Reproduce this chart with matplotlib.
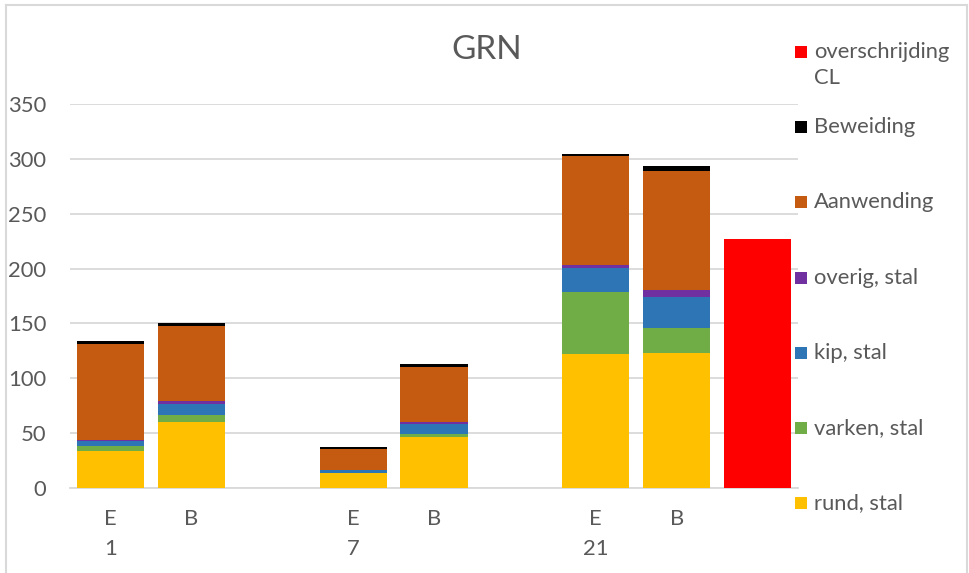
import numpy as np
import matplotlib
matplotlib.use("Agg")
import matplotlib.pyplot as plt
from matplotlib.patches import Rectangle
from matplotlib.lines import Line2D

plt.rcParams["font.family"] = ["Lato", "DejaVu Sans"]

# slots: E, B, (CL) for each group
categories = ["E", "B", "", "E", "B", "", "E", "B", ""]
groups = ["1", "7", "21"]

rund = [33.3, 60.0, 0, 13.6, 46.4, 0, 122.1, 123.3, 0]
varken = [4.9, 6.1, 0, 0.5, 3.0, 0, 57.0, 22.2, 0]
kip = [4.2, 10.3, 0, 2.0, 8.5, 0, 21.8, 29.0, 0]
overig = [1.8, 2.7, 0, 0.3, 2.4, 0, 2.7, 5.8, 0]
aanwending = [87.0, 68.5, 0, 19.0, 50.0, 0, 98.8, 108.5, 0]
beweiding = [2.4, 2.4, 0, 1.8, 2.4, 0, 2.4, 4.5, 0]
overschrijding = [0, 0, 0, 0, 0, 0, 0, 0, 226.7]

series_names = ["rund, stal", "varken, stal", "kip, stal", "overig, stal",
                "Aanwending", "Beweiding", "overschrijding\nCL"]
series_colors = ["#FFC000", "#70AD47", "#2E75B6", "#7030A0",
                 "#C55A11", "#000000", "#FF0000"]
series_values = [rund, varken, kip, overig, aanwending, beweiding, overschrijding]

text_color = "#595959"
grid_color = "#d9d9d9"
fs = 15.8
W, H = 970, 573

fig = plt.figure(figsize=(9.7, 5.73), dpi=100)
ax = fig.add_axes([70 / W, 1 - 488 / H, 728 / W, 384 / H])

x = np.arange(len(categories))
bottom = np.zeros(len(categories))
for vals, color in zip(series_values, series_colors):
    vals = np.array(vals, dtype=float)
    ax.bar(x, vals, width=0.83, bottom=bottom, color=color, zorder=3)
    bottom += vals

ax.set_xlim(-0.5, len(categories) - 0.5)
ax.set_ylim(0, 350)
ax.set_yticks(np.arange(0, 351, 50))
ax.yaxis.grid(True, color=grid_color, lw=1.3)
ax.set_axisbelow(True)
for side in ["top", "right", "left"]:
    ax.spines[side].set_visible(False)
ax.spines["bottom"].set_color(grid_color)
ax.spines["bottom"].set_linewidth(1.3)
ax.tick_params(axis="y", length=0, pad=17, labelsize=fs, labelcolor=text_color)

# two-level category labels
ax.set_xticks(x)
ax.set_xticklabels(categories)
ax.tick_params(axis="x", length=0, pad=15, labelsize=fs, labelcolor=text_color)
for i, g in enumerate(groups):
    ax.text(i * 3, -55.5, g, ha="center", va="center", fontsize=fs,
            color=text_color, transform=ax.transData, clip_on=False)

fig.text(487 / W, 1 - 50 / H, "GRN", ha="center", va="center",
         fontsize=24, color=text_color)

# legend, drawn top to bottom in reverse order
for i, (name, color) in enumerate(zip(series_names[::-1], series_colors[::-1])):
    yc = 52 + i * 75.2
    fig.patches.append(Rectangle((795 / W, 1 - (yc + 6) / H), 12 / W, 12 / H,
                                 facecolor=color, transform=fig.transFigure))
    ty = yc + 13 if "\n" in name else yc
    fig.text(814 / W, 1 - ty / H, name, ha="left", va="center", fontsize=fs,
             color=text_color, linespacing=1.4)

# chart area border
for xs, ys in [([6, 6], [5, H]), ([6, 967], [5, 5]), ([967, 967], [5, H])]:
    fig.add_artist(Line2D([v / W for v in xs], [1 - v / H for v in ys],
                          color=grid_color, lw=1.5))

fig.savefig("out.png", dpi=100)
